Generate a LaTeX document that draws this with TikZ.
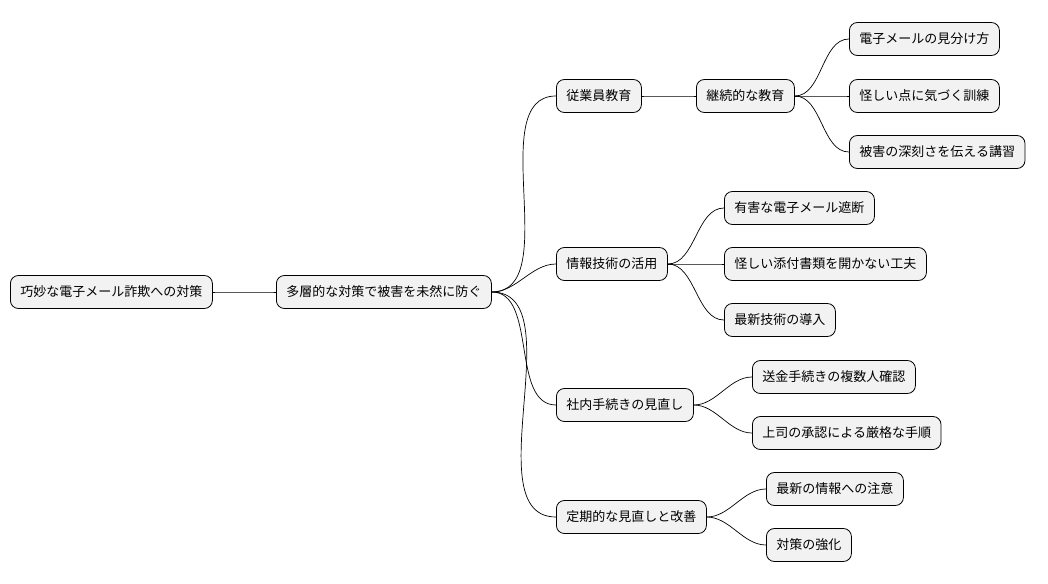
\documentclass[tikz,border=0pt]{standalone}
\usepackage{fontspec}
\newfontfamily\cjk{Noto Sans CJK JP}
\usetikzlibrary{positioning}

\tikzset{
  idea/.style={draw=black, fill=gray!10, rounded corners=8pt, line width=0.8pt,
    font=\cjk\fontsize{13}{15}\selectfont, minimum height=33pt, inner xsep=10pt, anchor=west},
  branch/.style={line width=0.7pt, out=0, in=180, looseness=0.9}
}

\begin{document}
\begin{tikzpicture}[x=1pt, y=-1pt]
    \useasboundingbox (0,0) rectangle (1048,583);

    % Root and main idea
    \node[idea] (root) at (10,292) {巧妙な電子メール詐欺への対策};
    \node[idea] (core) at (276,292) {多層的な対策で被害を未然に防ぐ};

    % Branches
    \node[idea] (staff) at (556,96) {従業員教育};
    \node[idea] (tech) at (556,264) {情報技術の活用};
    \node[idea] (proc) at (556,405) {社内手続きの見直し};
    \node[idea] (review) at (556,517) {定期的な見直しと改善};

    % Leaves
    \node[idea] (cont) at (696,96) {継続的な教育};
    \node[idea] (spot) at (849,39) {電子メールの見分け方};
    \node[idea] (drill) at (849,96) {怪しい点に気づく訓練};
    \node[idea] (talk) at (849,152) {被害の深刻さを伝える講習};
    \node[idea] (block) at (724,208) {有害な電子メール遮断};
    \node[idea] (attach) at (724,264) {怪しい添付書類を開かない工夫};
    \node[idea] (newtech) at (724,320) {最新技術の導入};
    \node[idea] (multi) at (752,377) {送金手続きの複数人確認};
    \node[idea] (boss) at (752,433) {上司の承認による厳格な手順};
    \node[idea] (news) at (766,489) {最新の情報への注意};
    \node[idea] (harden) at (766,545) {対策の強化};

    % Connectors
    \foreach \a/\b in {root/core, core/staff, core/tech, core/proc, core/review,
                       staff/cont, cont/spot, cont/drill, cont/talk,
                       tech/block, tech/attach, tech/newtech,
                       proc/multi, proc/boss, review/news, review/harden} {
      \draw[branch] (\a.east) to (\b.west);
    }
\end{tikzpicture}
\end{document}
